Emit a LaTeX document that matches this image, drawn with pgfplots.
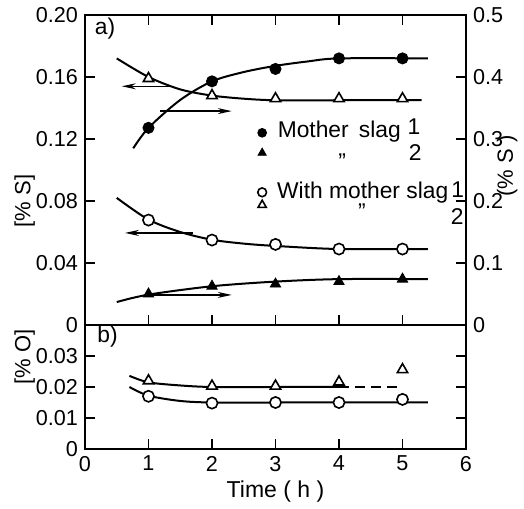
\documentclass[border=0pt]{standalone}
\usepackage{fontspec}
\setmainfont{Liberation Sans}
\usepackage{pgfplots}
\pgfplotsset{compat=1.18}
\usetikzlibrary{arrows.meta}

\newcommand{\tf}{\fontsize{10.8}{13}\selectfont}
\newcommand{\lf}{\fontsize{11.4}{14}\selectfont}
\pgfplotsset{
  every tick label/.append style={font=\tf},
  /pgf/number format/assume math mode=true,
  base/.style={
    width=190.5pt, scale only axis, xmin=0, xmax=6,
    tick align=inside, major tick length=5pt,
    axis line style={line width=1.2pt},
    every tick/.style={black, line width=0.8pt},
    scaled y ticks=false,
  },
  curve/.style={black, line width=1pt, smooth, no marks},
  arr/.style={black, line width=0.6pt, -{Stealth[length=7pt,width=3pt]}, no marks},
  fc/.style={only marks, mark=*, mark size=2.8pt, mark options={fill=black, draw=black}},
  oc/.style={only marks, mark=*, mark size=2.8pt, mark options={fill=white, draw=black, line width=0.8pt}},
  ft/.style={only marks, mark=triangle*, mark size=3pt, mark options={fill=black, draw=black}},
  ot/.style={only marks, mark=triangle*, mark size=3pt, mark options={fill=white, draw=black, line width=0.8pt}},
}

\begin{document}
\begin{tikzpicture}[every node/.style={font=\lf}]
\useasboundingbox (-42.5pt,-29.5pt) rectangle (219.5pt,224.5pt);

% ---- panel a, left axis [%S]
\begin{axis}[base, at={(0,62pt)}, anchor=south west, height=155pt,
  ymin=0, ymax=0.2,
  xtick={1,...,5}, xticklabels={}, xtick pos=both,
  ytick={0,0.04,0.08,0.12,0.16,0.2}, yticklabels={0,0.04,0.08,0.12,0.16,0.20},
  ytick pos=left,
  clip=false]
% open triangles (left scale)
\addplot[curve] coordinates {(0.5,0.172)(1,0.160)(1.5,0.152)(2,0.148)(2.5,0.146)(3,0.145)(4,0.145)(5.3,0.145)};
\addplot[ot] coordinates {(1,0.159)(2,0.148)(3,0.146)(4,0.146)(5,0.146)};
% open circles (left scale)
\addplot[curve] coordinates {(0.5,0.082)(1,0.068)(1.5,0.060)(2,0.055)(2.5,0.0525)(3,0.051)(4,0.049)(5.4,0.049)};
\addplot[oc] coordinates {(1,0.0677)(2,0.0548)(3,0.052)(4,0.049)(5,0.049)};
% arrows
\addplot[arr] coordinates {(1.34,0.154)(0.58,0.154)};
\addplot[arr] coordinates {(1.18,0.138)(2.31,0.138)};
\addplot[arr] coordinates {(1.70,0.0594)(0.63,0.0594)};
\addplot[arr] coordinates {(1.02,0.0194)(2.31,0.0194)};
% legend
\addplot[fc, mark size=2.2pt] coordinates {(2.79,0.124)};
\addplot[ft, mark size=2.4pt] coordinates {(2.79,0.111)};
\addplot[oc, mark size=2.2pt] coordinates {(2.79,0.0856)};
\addplot[ot, mark size=2.4pt] coordinates {(2.79,0.0774)};
\node[anchor=west, inner sep=0pt] at (axis cs:3.03,0.1245) {Mother\hspace{0.45em}slag};
\node[inner sep=0pt] at (axis cs:5.18,0.128) {1};
\node[inner sep=0pt] at (axis cs:5.2,0.111) {2};
\node[anchor=north, inner sep=0pt] at (axis cs:4.05,0.1105) {”};
\node[anchor=west, inner sep=0pt] at (axis cs:3.02,0.0856) {With mother slag};
\node[inner sep=0pt] at (axis cs:5.87,0.087) {1};
\node[inner sep=0pt] at (axis cs:5.86,0.0697) {2};
\node[anchor=north, inner sep=0pt] at (axis cs:4.36,0.0787) {”};
\node[anchor=west, inner sep=0pt] at (axis cs:0.15,0.1915) {a)};
\node[rotate=90, font=\fontsize{11}{13}\selectfont] at (rel axis cs:-0.158,0.40) {[\% S]};
\node[rotate=90, font=\fontsize{11}{13}\selectfont] at (rel axis cs:1.108,0.513) {(\% S )};
\end{axis}

% ---- panel a, right axis (%S)
\begin{axis}[base, at={(0,62pt)}, anchor=south west, height=155pt,
  ymin=0, ymax=0.5, axis x line=none, axis y line*=right,
  ytick={0,0.1,0.2,0.3,0.4,0.5}, yticklabels={0,0.1,0.2,0.3,0.4,0.5}]
% filled circles (right scale)
\addplot[curve] coordinates {(0.76,0.285)(1,0.318)(1.5,0.363)(2,0.393)(2.5,0.408)(3,0.418)(3.5,0.425)(4,0.430)(5.4,0.430)};
\addplot[fc] coordinates {(1,0.318)(2,0.393)(3,0.413)(4,0.430)(5,0.430)};
% filled triangles (right scale)
\addplot[curve] coordinates {(0.5,0.037)(1,0.049)(2,0.0625)(3,0.070)(4,0.074)(5.4,0.074)};
\addplot[ft] coordinates {(1,0.050)(2,0.0625)(3,0.066)(4,0.070)(5,0.074)};
\end{axis}

% ---- panel b [%O]
\begin{axis}[base, at={(0,0)}, anchor=south west, height=62pt,
  ymin=0, ymax=0.04,
  xtick={0,...,6}, xtick pos=bottom,
  ytick={0,0.01,0.02,0.03}, yticklabels={0,0.01,0.02,0.03}, ytick pos=both,
  xlabel={Time ( h )}, xlabel style={font=\fontsize{11.5}{14}\selectfont, yshift=2pt},
  clip=false]
\addplot[curve] coordinates {(0.7,0.0236)(1,0.0215)(1.5,0.0205)(2,0.0200)(3,0.0200)(4,0.0200)};
\addplot[black, line width=1pt, dash pattern=on 5pt off 3pt] coordinates {(4,0.0200)(5,0.0200)};
\addplot[ot] coordinates {(1,0.022)(2,0.0203)(3,0.0203)(4,0.0216)(5,0.0256)};
\addplot[curve] coordinates {(0.7,0.0200)(1,0.0172)(1.5,0.0155)(2,0.0150)(3,0.0150)(5.4,0.0150)};
\addplot[oc] coordinates {(1,0.017)(2,0.0148)(3,0.015)(4,0.015)(5,0.016)};
\node[anchor=west, inner sep=0pt] at (axis cs:0.19,0.0361) {b)};
\node[rotate=90, font=\fontsize{11}{13}\selectfont] at (rel axis cs:-0.158,0.74) {[\% O]};
\end{axis}
\end{tikzpicture}
\end{document}
